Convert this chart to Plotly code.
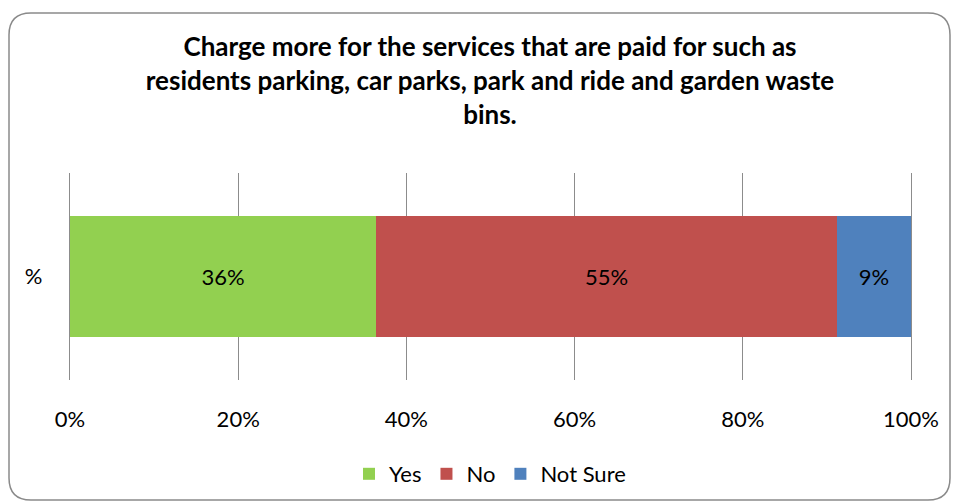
import plotly.graph_objects as go

# chart data
categories = ["%"]
yes = [36.4]
no = [54.8]
not_sure = [8.8]
x_ticks = [0, 20, 40, 60, 80, 100]
x_tick_labels = ["0%", "20%", "40%", "60%", "80%", "100%"]

FONT = "Lato"
W, H = 959, 503
L, R, T, B = 70, 911, 173, 380  # plot area in pixels


def px(x, y):
    # pixel -> paper coordinates for the border shape
    return (x - L) / (R - L), (B - y) / (B - T)


def rounded_box(x0, y0, x1, y1, r):
    pts = [
        ("M", [(x0 + r, y0)]),
        ("L", [(x1 - r, y0)]),
        ("Q", [(x1, y0), (x1, y0 + r)]),
        ("L", [(x1, y1 - r)]),
        ("Q", [(x1, y1), (x1 - r, y1)]),
        ("L", [(x0 + r, y1)]),
        ("Q", [(x0, y1), (x0, y1 - r)]),
        ("L", [(x0, y0 + r)]),
        ("Q", [(x0, y0), (x0 + r, y0)]),
    ]
    out = ""
    for cmd, ps in pts:
        out += cmd + " ".join("%.5f,%.5f" % px(a, b) for a, b in ps) + " "
    return out + "Z"


colors = {"Yes": "#92D050", "No": "#C0504D", "Not Sure": "#4F81BD"}
data = []
for name, vals in [("Yes", yes), ("No", no), ("Not Sure", not_sure)]:
    data.append(go.Bar(
        y=categories, x=vals, name=name, orientation="h",
        marker=dict(color=colors[name], line=dict(width=0)),
        texttemplate="%{x:.0f}%", textposition="inside",
        insidetextanchor="middle",
        textfont=dict(family=FONT, size=22, color="black"),
        hoverinfo="skip",
    ))

layout = go.Layout(
    width=W, height=H,
    barmode="stack", bargap=0.42,
    paper_bgcolor="white", plot_bgcolor="white",
    margin=dict(l=L, r=W - R, t=T, b=H - B),
    title=dict(
        text="<b>Charge more for the services that are paid for such as<br>"
             "residents parking, car parks, park and ride and garden waste<br>"
             "bins.</b>",
        x=490 / W, xanchor="center", y=1 - 56 / H, yanchor="top",
        font=dict(family=FONT, size=26, color="black"),
    ),
    xaxis=dict(
        range=[0, 100], tickvals=x_ticks, ticktext=x_tick_labels,
        showgrid=True, gridcolor="#8c8c8c", gridwidth=1.2,
        zeroline=False, showline=False, ticks="",
        ticklabelstandoff=24,
        tickfont=dict(family=FONT, size=22, color="black"),
        fixedrange=True,
    ),
    yaxis=dict(
        showgrid=False, zeroline=False,
        showline=True, mirror=True, linecolor="#8c8c8c", linewidth=1.2,
        ticks="",
        ticklabelstandoff=22,
        tickfont=dict(family=FONT, size=22, color="black"),
        fixedrange=True,
    ),
    legend=dict(
        orientation="h", x=490 / W, xanchor="center",
        xref="container", yref="container",
        y=1 - 474 / H, yanchor="middle",
        font=dict(family=FONT, size=22, color="black"),
        itemwidth=30, traceorder="normal",
    ),
    showlegend=True,
    shapes=[dict(
        type="path", xref="paper", yref="paper",
        path=rounded_box(9, 13, 950, 500, 22),
        line=dict(color="#8a8a8a", width=1.5),
        fillcolor="rgba(0,0,0,0)", layer="below",
    )],
)

fig = go.Figure(data=data, layout=layout)
fig.write_html("out.html", config={"displayModeBar": False},
               post_script="document.body.style.margin='0';")
